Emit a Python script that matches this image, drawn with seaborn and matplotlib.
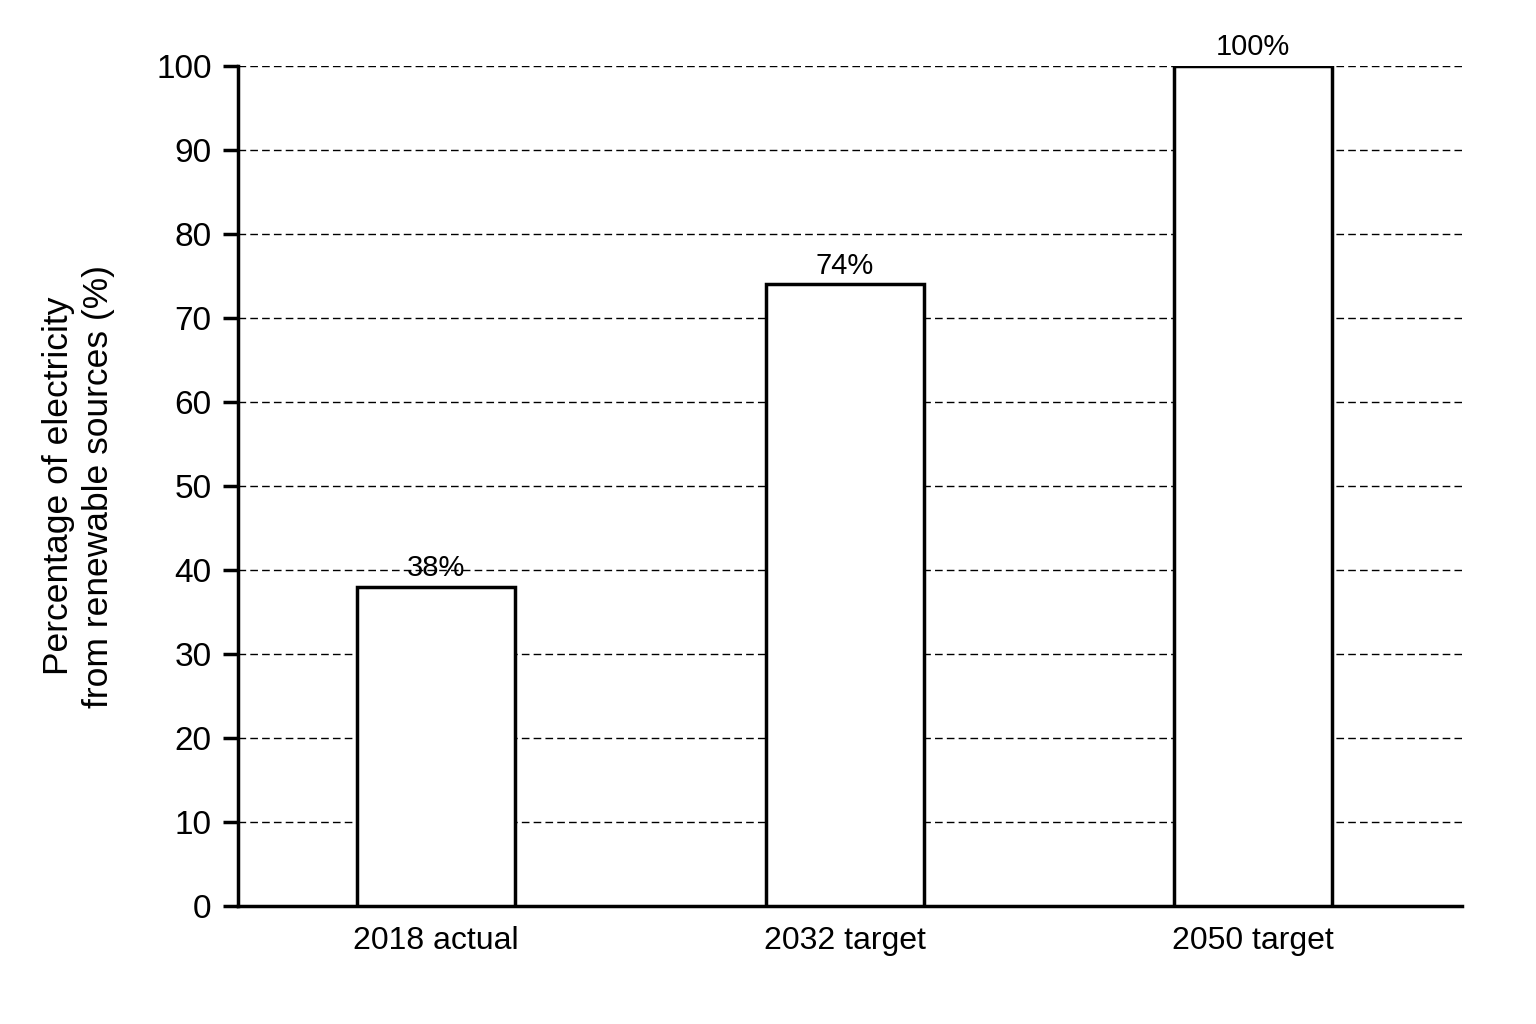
import matplotlib
matplotlib.use("Agg")
import matplotlib.pyplot as plt
import pandas as pd
import seaborn as sns

# data
categories = ["2018 actual", "2032 target", "2050 target"]
renewable_share = [38, 74, 100]
y_ticks = [0, 10, 20, 30, 40, 50, 60, 70, 80, 90, 100]

df = pd.DataFrame({"period": categories, "share": renewable_share})

sns.set_theme(style="white")
plt.rcParams["font.family"] = ["Liberation Sans", "DejaVu Sans"]
plt.rcParams["text.color"] = "black"
plt.rcParams["axes.labelcolor"] = "black"
plt.rcParams["xtick.color"] = "black"
plt.rcParams["ytick.color"] = "black"

fig = plt.figure(figsize=(15.36, 10.24), dpi=100)
ax = fig.add_axes([0.155, 0.115, 0.797, 0.8205])

sns.barplot(
    data=df, x="period", y="share", order=categories,
    color="white", edgecolor="black", linewidth=2.5,
    width=0.387, saturation=1, ax=ax, zorder=3,
)

# dashed horizontal grid behind the bars
ax.set_axisbelow(True)
ax.yaxis.grid(True, linestyle=(0, (5.5, 3)), color="black", linewidth=1)
ax.xaxis.grid(False)

ax.set_ylim(0, 100)
ax.set_xlim(-0.485, 2.512)
ax.set_yticks(y_ticks)

for c in ax.containers:
    ax.bar_label(c, fmt="%d%%", padding=3.5, fontsize=21)

ax.set_xlabel("")
ax.set_ylabel("Percentage of electricity\nfrom renewable sources (%)",
              fontsize=25.5, labelpad=30, linespacing=1.25)

for side in ["top", "right"]:
    ax.spines[side].set_visible(False)
for side in ["left", "bottom"]:
    ax.spines[side].set_color("black")
    ax.spines[side].set_linewidth(2.5)

ax.tick_params(axis="y", which="major", left=True, length=11, width=2.5,
               labelsize=24, pad=8)
ax.tick_params(axis="x", length=0, labelsize=23, pad=14)

fig.savefig("out.png", dpi=100, facecolor="white")
